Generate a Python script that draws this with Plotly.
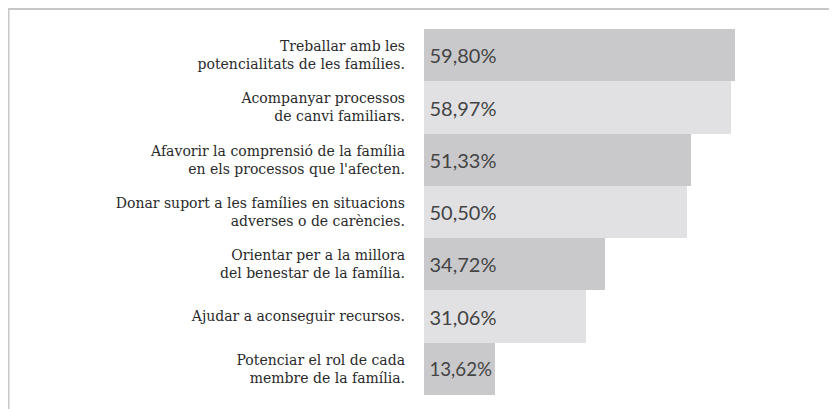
import plotly.graph_objects as go

categories = [
    "Treballar amb les<br>potencialitats de les famílies.",
    "Acompanyar processos<br>de canvi familiars.",
    "Afavorir la comprensió de la família<br>en els processos que l'afecten.",
    "Donar suport a les famílies en situacions<br>adverses o de carències.",
    "Orientar per a la millora<br>del benestar de la família.",
    "Ajudar a aconseguir recursos.",
    "Potenciar el rol de cada<br>membre de la família.",
]
values = [59.80, 58.97, 51.33, 50.50, 34.72, 31.06, 13.62]
bar_colors = ["#c9c9cb", "#e1e1e3", "#c9c9cb", "#e1e1e3", "#c9c9cb", "#e1e1e3", "#c9c9cb"]

labels = ["\u2009" + f"{v:.2f}".replace(".", ",") + "%" for v in values]

# page body has an 8px margin: the figure sits at (8, 8) in the window
W, H = 829, 401
ML, MR, MT, MB = 416, 23, 21, 14
pw = W - ML - MR
ph = H - MT - MB

fig = go.Figure(go.Bar(
    x=values, y=categories, orientation="h",
    marker=dict(color=bar_colors, line=dict(width=0)),
    text=labels, textposition="inside", insidetextanchor="start",
    textfont=dict(family="Lato", size=20, color="#444444"),
    cliponaxis=False, hoverinfo="skip",
))

def px_x(p):
    return (p - ML) / pw

def px_y(p):
    return 1 - (p - MT) / ph

line_col = "#c8c8c8"
fig.add_shape(type="line", xref="paper", yref="paper",
              x0=px_x(0), x1=px_x(W + 5), y0=px_y(1), y1=px_y(1),
              line=dict(color=line_col, width=2))
fig.add_shape(type="line", xref="paper", yref="paper",
              x0=px_x(0.5), x1=px_x(0.5), y0=px_y(1), y1=px_y(H + 5),
              line=dict(color=line_col, width=2))

fig.update_layout(
    width=W, height=H,
    margin=dict(l=ML, r=MR, t=MT, b=MB),
    paper_bgcolor="white", plot_bgcolor="white",
    bargap=0, showlegend=False,
    xaxis=dict(range=[0, pw / 5.2], visible=False, fixedrange=True),
    yaxis=dict(autorange="reversed", showgrid=False, zeroline=False, showline=False,
               ticks="", ticklabelstandoff=18, fixedrange=True,
               tickfont=dict(family="DejaVu Serif", size=14, color="#2a2a2a")),
)

fig.write_html("out.html")
